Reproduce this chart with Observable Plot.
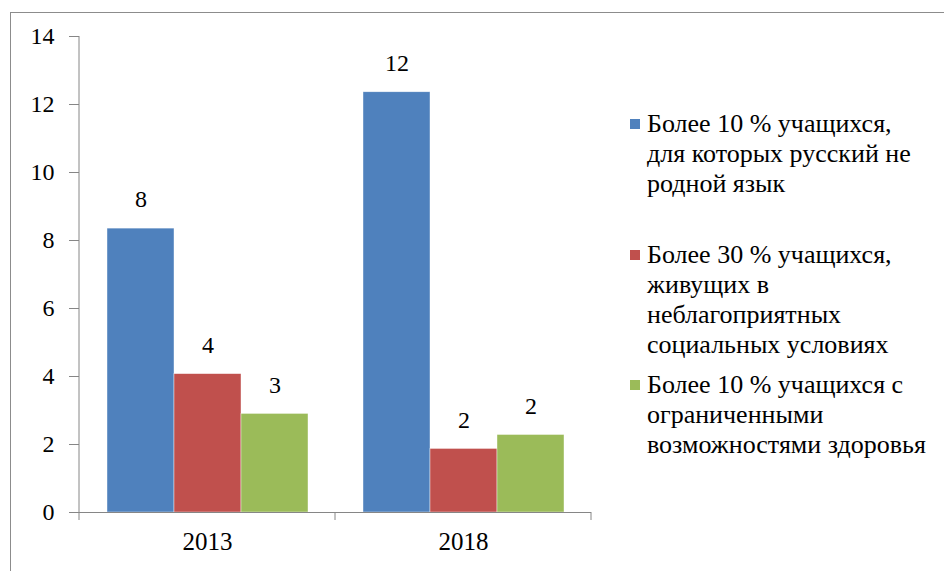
<!DOCTYPE html>
<html><head><meta charset="utf-8">
<script src="https://cdn.jsdelivr.net/npm/d3@7"></script>
<script src="https://cdn.jsdelivr.net/npm/@observablehq/plot@0.6"></script>
<style>
html,body{margin:0;padding:0;background:#fff;}
#wrap{position:relative;width:944px;height:571px;overflow:hidden;}
#border{position:absolute;left:10px;top:12px;width:960px;height:600px;border:1px solid #8c8c8c;box-sizing:border-box;}
#chart{position:absolute;left:0;top:0;}
.leg{position:absolute;left:630px;}
.leg .sw{position:absolute;left:0;top:10px;width:10px;height:10px;}
.leg .tx{position:absolute;left:17px;white-space:nowrap;font-family:"Liberation Serif";font-size:26px;line-height:30px;color:#000;}
</style></head>
<body><div id="wrap"><div id="border"></div><div id="chart"></div></div>
<script>
const years = ["2013", "2018"];
const seriesKeys = ["s1", "s2", "s3"];
const values2013 = [8.35, 4.07, 2.9];
const values2018 = [12.36, 1.87, 2.28];
const colors = ["#4F81BD", "#C0504D", "#9BBB59"];
const yTicks = [0, 2, 4, 6, 8, 10, 12, 14];
const legendLines = [
  ["Более 10 % учащихся,", "для которых русский не", "родной язык"],
  ["Более 30 % учащихся,", "живущих в", "неблагоприятных", "социальных условиях"],
  ["Более 10 % учащихся с", "ограниченными", "возможностями здоровья"]
];
const legendTops = [109, 240, 370];
const FONT = "Liberation Serif";

const data = [];
seriesKeys.forEach((k, i) => {
  data.push({year: years[0], key: k, value: values2013[i]});
  data.push({year: years[1], key: k, value: values2018[i]});
});

const chart = Plot.plot({
  width: 600, height: 571,
  marginLeft: 79, marginRight: 9, marginTop: 36, marginBottom: 59,
  style: {fontFamily: FONT, fontSize: "24px", color: "#000", background: "transparent"},
  fx: {domain: years, padding: 0, label: null, axis: null},
  x: {domain: seriesKeys, paddingInner: 0, paddingOuter: 0.4, axis: null},
  y: {domain: [0, 14], axis: null},
  color: {domain: seriesKeys, range: colors},
  marks: [
    Plot.barY(data, {fx: "year", x: "key", y: "value", fill: "key", stroke: "#fff", strokeWidth: 0.6, strokeOpacity: 0.7}),
    Plot.text(data, {fx: "year", x: "key", y: "value", text: d => String(Math.round(d.value)), dy: -29, fill: "#000", fontSize: 24, fontFamily: FONT}),
    Plot.ruleY([0], {stroke: "#868686"}),
    Plot.axisY({ticks: yTicks, tickSize: 10, tickPadding: 15, stroke: "#868686", fill: "#000", label: null, tickFormat: d => String(d), fontSize: 24, fontFamily: FONT}),
    Plot.axisFx({anchor: "bottom", tickSize: 0, tickPadding: 20, label: null, fill: "#000", fontSize: 25, fontFamily: FONT})
  ]
});
document.getElementById("chart").appendChild(chart);

// axis line and category-boundary ticks, positioned from the library's scales
const fx = chart.scale("fx");
const y = chart.scale("y");
const svg = d3.select(chart);
const step = (fx.range[1] - fx.range[0]) / fx.domain.length;
const y0 = y.range[0];
svg.append("line").attr("x1", fx.range[0]).attr("x2", fx.range[0])
  .attr("y1", y.range[0]).attr("y2", y.range[1]).attr("stroke", "#868686");
for (let i = 0; i <= fx.domain.length; i++) {
  const xx = fx.range[0] + i * step;
  svg.append("line").attr("x1", xx).attr("x2", xx).attr("y1", y0).attr("y2", y0 + 8)
    .attr("stroke", "#868686");
}

const wrap = document.getElementById("wrap");
legendLines.forEach((lines, i) => {
  const d = document.createElement("div");
  d.className = "leg";
  d.style.top = legendTops[i] + "px";
  const sw = document.createElement("div");
  sw.className = "sw"; sw.style.background = colors[i];
  d.appendChild(sw);
  const tx = document.createElement("div");
  tx.className = "tx";
  tx.innerHTML = lines.join("<br>");
  d.appendChild(tx);
  wrap.appendChild(d);
});
</script></body></html>
